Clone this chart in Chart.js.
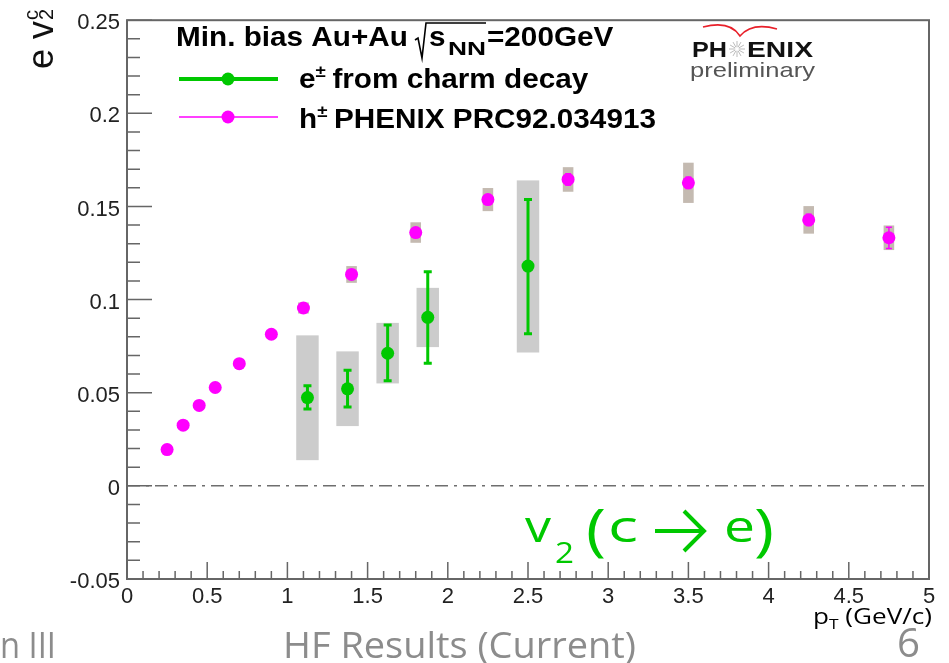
<!DOCTYPE html>
<html>
<head>
<meta charset="utf-8">
<script src="https://cdn.jsdelivr.net/npm/chart.js@4.4.0/dist/chart.umd.min.js"></script>
<style>
  html, body { margin: 0; padding: 0; background: #fff; }
  #wrap { width: 949px; height: 663px; position: relative; }
</style>
</head>
<body>
<div id="wrap"><canvas id="v2chart"></canvas></div>
<script>
// h+- PHENIX PRC92.034913
const hadronPt   = [0.25, 0.35, 0.45, 0.55, 0.7, 0.9, 1.1, 1.4, 1.8, 2.25, 2.75, 3.5, 4.25, 4.75];
const hadronV2   = [0.0195, 0.0326, 0.0432, 0.0528, 0.0656, 0.0814, 0.0955, 0.1135, 0.136, 0.1537, 0.1645, 0.1627, 0.1428, 0.1332];
const hadronStat = [0.001, 0.001, 0.001, 0.001, 0.001, 0.001, 0.002, 0.002, 0.002, 0.002, 0.003, 0.003, 0.003, 0.0057];
const hadronSys  = [0.001, 0.001, 0.001, 0.001, 0.0015, 0.002, 0.003, 0.0045, 0.0055, 0.0062, 0.0066, 0.0108, 0.0074, 0.0066];

// e+- from charm decay
const charmPt     = [1.125, 1.375, 1.625, 1.875, 2.5];
const charmV2     = [0.0474, 0.0521, 0.0712, 0.0905, 0.118];
const charmStatLo = [0.0062, 0.0097, 0.0147, 0.0247, 0.0363];
const charmStatHi = [0.0064, 0.0100, 0.0151, 0.0244, 0.0358];
const charmSysLo  = [0.0336, 0.0200, 0.0162, 0.0160, 0.0464];
const charmSysHi  = [0.0334, 0.0201, 0.0163, 0.0158, 0.0460];

const xTicks = [0, 0.5, 1, 1.5, 2, 2.5, 3, 3.5, 4, 4.5, 5];
const yTicks = [-0.05, 0, 0.05, 0.1, 0.15, 0.2, 0.25];

const GREEN = '#00c800';
const MAGENTA = '#ff00ff';
const SANS = '"Liberation Sans", Arial, sans-serif';
const CAL = '"Open Sans", "Liberation Sans", sans-serif';

// draw text runs, optionally stretched horizontally by sx
function runs(ctx, x, y, parts, sx = 1) {
    parts.forEach(p => {
        ctx.font = p.font;
        ctx.fillStyle = p.color || '#000';
        ctx.save();
        ctx.translate(x, y + (p.dy || 0));
        ctx.scale(sx, 1);
        ctx.fillText(p.t, 0, 0);
        ctx.restore();
        x += (ctx.measureText(p.t).width + (p.gap || 0)) * sx;
    });
    return x;
}

// draw text stretched so it spans exactly from x0 to x1
function fitText(ctx, t, x0, x1, y, font, color) {
    ctx.font = font;
    const w = ctx.measureText(t).width;
    runs(ctx, x0, y, [{ t, font, color }], (x1 - x0) / w);
}

const rootStyle = {
    id: 'rootStyle',
    beforeDatasetsDraw(chart) {
        const { ctx, scales: { x, y }, chartArea: a } = chart;
        ctx.save();

        // dash-dot zero line
        ctx.strokeStyle = '#6e6e6e';
        ctx.lineWidth = 1.5;
        ctx.setLineDash([13, 6, 3, 6]);
        ctx.beginPath();
        ctx.moveTo(a.left, y.getPixelForValue(0));
        ctx.lineTo(a.right, y.getPixelForValue(0));
        ctx.stroke();
        ctx.setLineDash([]);

        // systematic boxes
        ctx.fillStyle = '#cccccc';
        charmPt.forEach((p, i) => {
            const x0 = x.getPixelForValue(p - 0.07), x1 = x.getPixelForValue(p + 0.07);
            const y0 = y.getPixelForValue(charmV2[i] + charmSysHi[i]), y1 = y.getPixelForValue(charmV2[i] - charmSysLo[i]);
            ctx.fillRect(x0, y0, x1 - x0, y1 - y0);
        });
        ctx.fillStyle = '#c4bab1';
        hadronPt.forEach((p, i) => {
            const x0 = x.getPixelForValue(p - 0.033), x1 = x.getPixelForValue(p + 0.033);
            const y0 = y.getPixelForValue(hadronV2[i] + hadronSys[i]), y1 = y.getPixelForValue(hadronV2[i] - hadronSys[i]);
            ctx.fillRect(x0, y0, x1 - x0, y1 - y0);
        });

        // stat error bars
        const bar = (px, lo, hi, color, w, cap) => {
            ctx.strokeStyle = color;
            ctx.lineWidth = w;
            ctx.beginPath();
            ctx.moveTo(px, lo); ctx.lineTo(px, hi);
            ctx.moveTo(px - cap, lo); ctx.lineTo(px + cap, lo);
            ctx.moveTo(px - cap, hi); ctx.lineTo(px + cap, hi);
            ctx.stroke();
        };
        charmPt.forEach((p, i) => {
            bar(x.getPixelForValue(p), y.getPixelForValue(charmV2[i] - charmStatLo[i]),
                y.getPixelForValue(charmV2[i] + charmStatHi[i]), GREEN, 3, 4);
        });
        hadronPt.forEach((p, i) => {
            bar(x.getPixelForValue(p), y.getPixelForValue(hadronV2[i] - hadronStat[i]),
                y.getPixelForValue(hadronV2[i] + hadronStat[i]), MAGENTA, 1.5, 3);
        });
        ctx.restore();
    },
    afterDraw(chart) {
        const { ctx, scales: { x, y }, chartArea: a } = chart;
        ctx.save();

        // frame
        ctx.strokeStyle = '#666';
        ctx.lineWidth = 2;
        ctx.strokeRect(a.left, a.top, a.right - a.left, a.bottom - a.top);

        // inward ticks
        ctx.lineWidth = 1.5;
        ctx.beginPath();
        for (let k = -5; k <= 25; k++) {
            const py = y.getPixelForValue(k / 100);
            ctx.moveTo(a.left, py);
            ctx.lineTo(a.left + (k % 5 === 0 ? 25 : 13), py);
        }
        for (let k = 0; k <= 50; k++) {
            const px = x.getPixelForValue(k / 10);
            ctx.moveTo(px, a.bottom);
            ctx.lineTo(px, a.bottom - (k % 5 === 0 ? 17 : 8));
        }
        ctx.stroke();

        ctx.textBaseline = 'alphabetic';
        ctx.textAlign = 'left';

        // legend
        ctx.strokeStyle = GREEN;
        ctx.lineWidth = 4;
        ctx.beginPath(); ctx.moveTo(179, 79); ctx.lineTo(278, 79); ctx.stroke();
        ctx.fillStyle = GREEN;
        ctx.beginPath(); ctx.arc(228, 79, 6.5, 0, Math.PI * 2); ctx.fill();
        ctx.strokeStyle = MAGENTA;
        ctx.lineWidth = 1.5;
        ctx.beginPath(); ctx.moveTo(179, 117); ctx.lineTo(278, 117); ctx.stroke();
        ctx.fillStyle = MAGENTA;
        ctx.beginPath(); ctx.arc(228, 117, 6.5, 0, Math.PI * 2); ctx.fill();

        const B = 'bold 27px ' + SANS, BS = 'bold 17px ' + SANS;
        const LS = 1.1;
        runs(ctx, 176, 46, [{ t: 'Min. bias Au+Au', font: B }], LS);
        // radical sign
        ctx.strokeStyle = '#000';
        ctx.lineWidth = 1.6;
        ctx.beginPath();
        ctx.moveTo(415, 40); ctx.lineTo(418, 38); ctx.lineTo(422, 58);
        ctx.lineTo(426, 23); ctx.lineTo(486, 23);
        ctx.stroke();
        runs(ctx, 429, 46, [{ t: 's', font: B }], LS);
        fitText(ctx, 'NN', 448, 486, 55, 'bold 19px ' + SANS, '#000');
        runs(ctx, 487, 46, [{ t: '=200GeV', font: B }], LS);
        runs(ctx, 299, 88, [
            { t: 'e', font: B },
            { t: '±', font: BS, dy: -11, gap: 6 },
            { t: 'from charm decay', font: B }
        ], LS);
        runs(ctx, 299, 128, [
            { t: 'h', font: B },
            { t: '±', font: BS, dy: -11, gap: 6 },
            { t: 'PHENIX PRC92.034913', font: B }
        ], LS);

        // PHENIX preliminary logo
        ctx.strokeStyle = '#e8202a';
        ctx.lineWidth = 1.6;
        ctx.beginPath();
        ctx.moveTo(703, 27);
        ctx.quadraticCurveTo(730, 20, 740, 36);
        ctx.quadraticCurveTo(752, 22, 777, 29);
        ctx.stroke();
        fitText(ctx, 'PH', 692, 727, 57, 'bold 22px ' + SANS, '#111');
        ctx.strokeStyle = '#bbb';
        ctx.lineWidth = 1;
        ctx.beginPath();
        for (let k = 0; k < 12; k++) {
            const ang = k * Math.PI / 6;
            ctx.moveTo(737 + 2 * Math.cos(ang), 49 + 2 * Math.sin(ang));
            ctx.lineTo(737 + 8 * Math.cos(ang), 49 + 8 * Math.sin(ang));
        }
        ctx.stroke();
        fitText(ctx, 'ENIX', 747, 813, 57, 'bold 22px ' + SANS, '#111');
        fitText(ctx, 'preliminary', 690, 815, 77, '21px ' + SANS, '#555');

        // y-axis title
        ctx.save();
        ctx.translate(53, 69);
        ctx.rotate(-Math.PI / 2);
        let yx = runs(ctx, 0, 0, [{ t: 'e v', font: '36px ' + SANS, color: '#111' }]);
        ctx.font = '20px ' + SANS;
        ctx.fillText('2', yx + 1, 0);
        ctx.fillText('c', yx + 1, -15);
        ctx.restore();

        // x-axis title
        ctx.font = '21px ' + CAL;
        const w1 = ctx.measureText('p').width;
        const w3 = ctx.measureText(' (GeV/c)').width;
        ctx.font = '14px ' + CAL;
        const w2 = ctx.measureText('T').width;
        const sxT = 119 / (w1 + w2 + w3);
        runs(ctx, 813, 624, [
            { t: 'p', font: '21px ' + CAL },
            { t: 'T', font: '14px ' + CAL, dy: 5 },
            { t: ' (GeV/c)', font: '21px ' + CAL }
        ], sxT);

        // v2 (c -> e) annotation
        const G = '44px ' + CAL, P = '56px ' + CAL;
        fitText(ctx, 'v', 525, 551, 542, G, GREEN);
        fitText(ctx, '2', 555, 574, 563, '29px ' + CAL, GREEN);
        fitText(ctx, '(', 586, 606, 550, P, GREEN);
        fitText(ctx, 'c', 608, 638, 542, G, GREEN);
        ctx.strokeStyle = GREEN;
        ctx.lineWidth = 4;
        ctx.beginPath();
        ctx.moveTo(655, 531); ctx.lineTo(703, 531);
        ctx.moveTo(684, 511); ctx.lineTo(704, 531); ctx.lineTo(684, 551);
        ctx.stroke();
        fitText(ctx, 'e', 724, 755, 542, G, GREEN);
        fitText(ctx, ')', 754, 774, 550, P, GREEN);

        // slide footer
        fitText(ctx, 'n III', 0, 56, 658, '37px ' + CAL, '#8c8c8c');
        fitText(ctx, 'HF Results (Current)', 283, 636, 658, '37px ' + CAL, '#8c8c8c');
        fitText(ctx, '6', 897, 920, 657, '40px ' + CAL, '#8c8c8c');

        ctx.restore();
    }
};

new Chart(document.getElementById('v2chart'), {
    type: 'scatter',
    data: {
        datasets: [
            {
                label: 'h± PHENIX PRC92.034913',
                data: hadronPt.map((p, i) => ({ x: p, y: hadronV2[i] })),
                backgroundColor: MAGENTA,
                borderWidth: 0,
                pointRadius: 6.5
            },
            {
                label: 'e± from charm decay',
                data: charmPt.map((p, i) => ({ x: p, y: charmV2[i] })),
                backgroundColor: GREEN,
                borderWidth: 0,
                pointRadius: 6.5
            }
        ]
    },
    options: {
        responsive: true,
        maintainAspectRatio: false,
        animation: false,
        devicePixelRatio: 1,
        layout: { padding: { top: 10, right: 20, bottom: 0, left: 0 } },
        plugins: { legend: { display: false }, tooltip: { enabled: false } },
        scales: {
            x: {
                type: 'linear',
                min: 0,
                max: 5,
                afterFit: s => { s.height = 84; },
                afterBuildTicks: s => { s.ticks = xTicks.map(v => ({ value: v })); },
                grid: { display: false, drawTicks: false },
                border: { display: false },
                ticks: {
                    padding: 5,
                    maxRotation: 0,
                    color: '#222',
                    font: { family: SANS, size: 22 },
                    callback: v => String(v)
                }
            },
            y: {
                type: 'linear',
                min: -0.05,
                max: 0.25,
                afterFit: s => { s.width = 127; },
                afterBuildTicks: s => { s.ticks = yTicks.map(v => ({ value: v })); },
                grid: { display: false, drawTicks: false },
                border: { display: false },
                ticks: {
                    padding: 7,
                    labelOffset: 3,
                    color: '#222',
                    font: { family: SANS, size: 22 },
                    callback: v => String(Math.round(v * 100) / 100)
                }
            }
        }
    },
    plugins: [rootStyle]
});
</script>
</body>
</html>
